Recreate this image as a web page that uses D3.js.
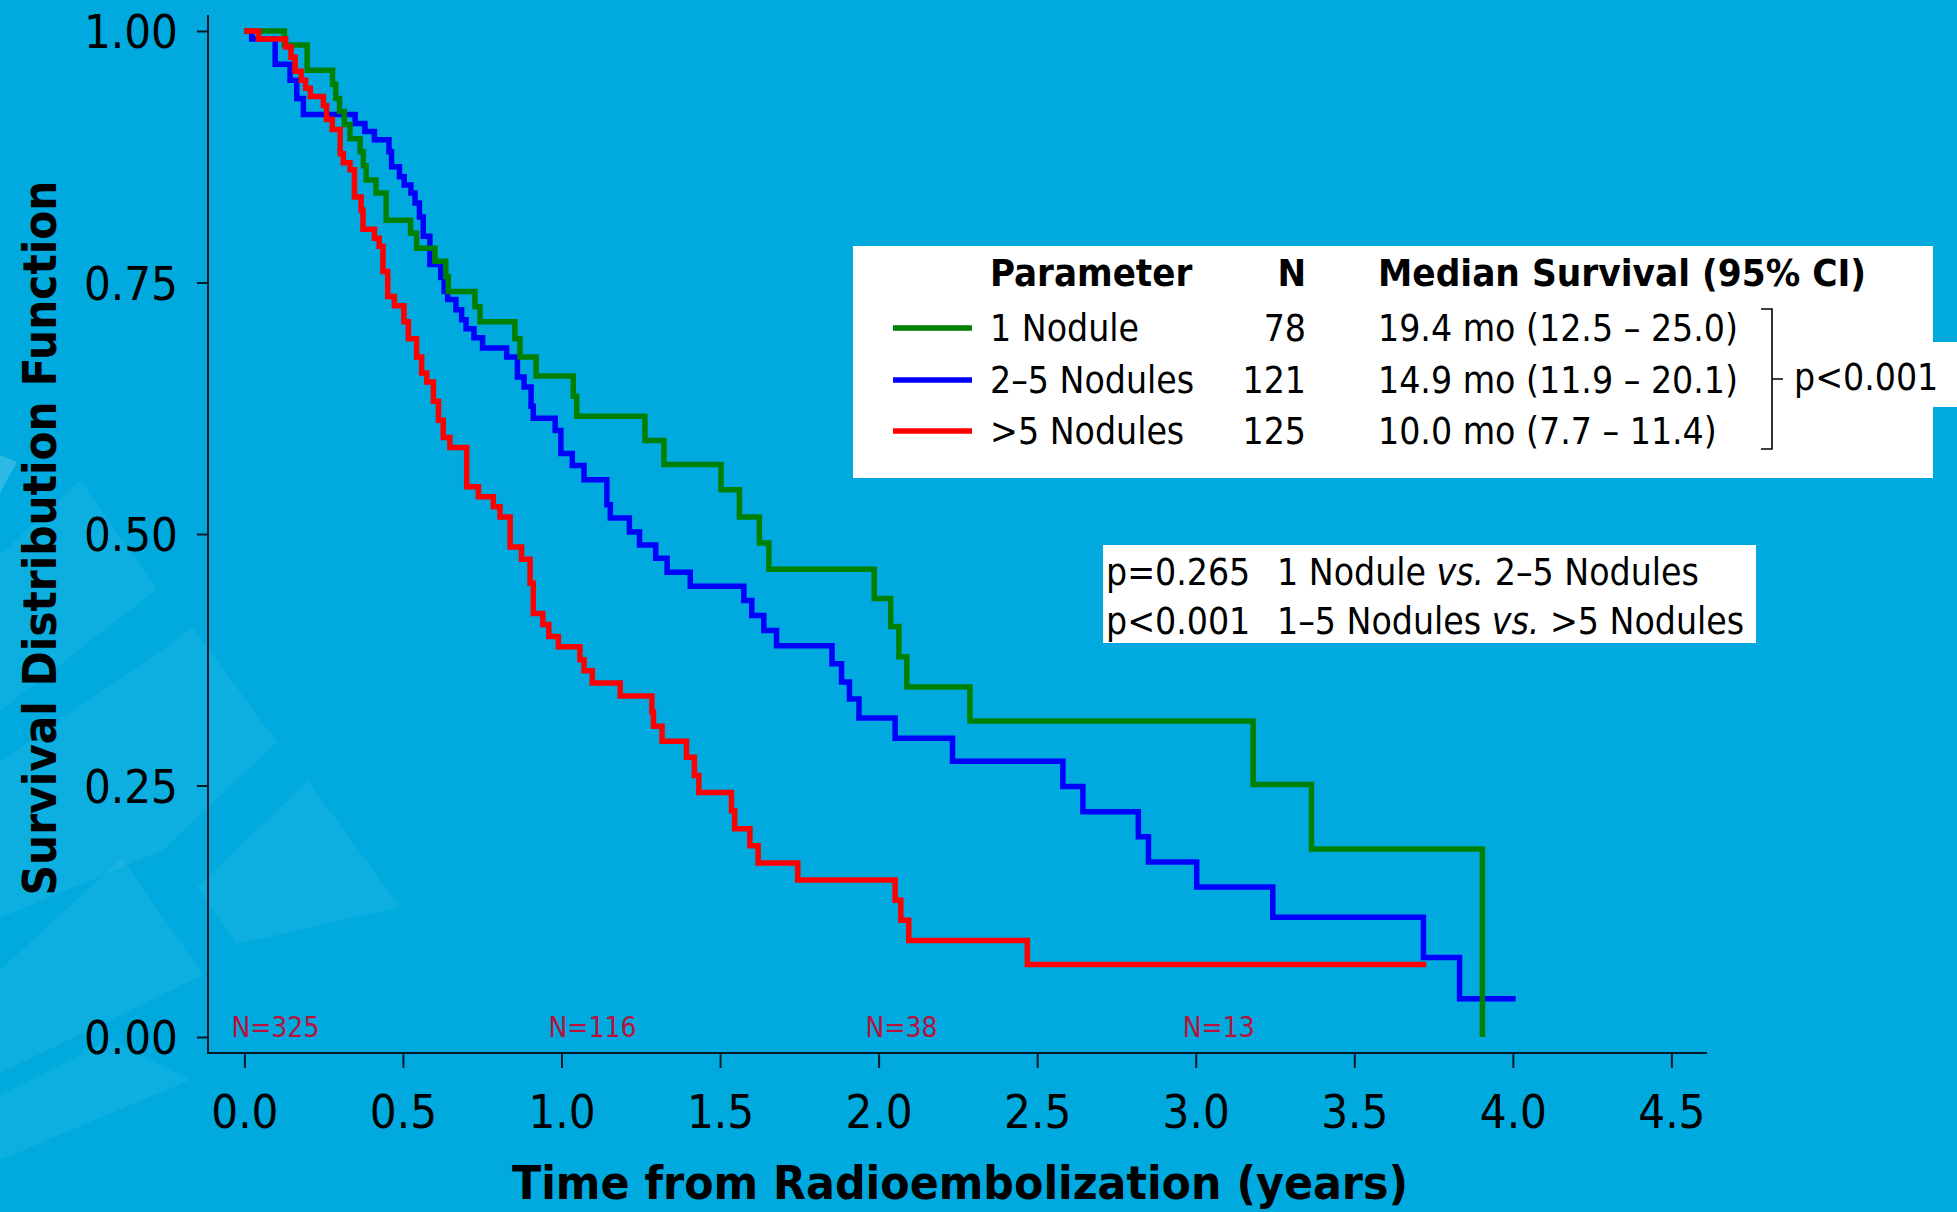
<!DOCTYPE html>
<html>
<head>
<meta charset="utf-8">
<script src="https://cdn.jsdelivr.net/npm/d3@7"></script>
<style>
  html, body { margin: 0; padding: 0; background: #00aadf; }
  svg { display: block; }
  .sans { font-family: "DejaVu Sans Condensed", "DejaVu Sans", sans-serif; font-stretch: condensed; }
</style>
</head>
<body>
<svg id="chart" width="1957" height="1212"></svg>
<script>
// ---- Kaplan–Meier step data (time in years, survival after each step) ----
const nodule1Times = [0, 0.126, 0.198, 0.278, 0.288, 0.300, 0.315, 0.333, 0.365, 0.375, 0.384, 0.415, 0.447,
  0.524, 0.543, 0.601, 0.635, 0.643, 0.727, 0.743, 0.853, 0.869, 0.920, 1.037, 1.048, 1.263, 1.323,
  1.503, 1.561, 1.624, 1.654, 1.986, 2.038, 2.064, 2.089, 2.288, 3.181, 3.365, 3.904];
const nodule1Surv = [1, 0.986, 0.961, 0.947, 0.933, 0.920, 0.907, 0.893, 0.880, 0.866, 0.852, 0.839, 0.812,
  0.799, 0.784, 0.771, 0.756, 0.741, 0.726, 0.711, 0.694, 0.676, 0.657, 0.637, 0.617, 0.593, 0.569,
  0.544, 0.517, 0.491, 0.465, 0.436, 0.408, 0.378, 0.348, 0.314, 0.251, 0.187, 0];

const nodules2to5Times = [0, 0.023, 0.097, 0.144, 0.165, 0.186, 0.349, 0.380, 0.410, 0.456, 0.464, 0.489, 0.504,
  0.525, 0.538, 0.552, 0.564, 0.585, 0.619, 0.630, 0.641, 0.667, 0.685, 0.699, 0.724, 0.751, 0.827, 0.861,
  0.882, 0.904, 0.911, 0.980, 0.998, 1.034, 1.071, 1.143, 1.154, 1.214, 1.246, 1.297, 1.333, 1.406,
  1.575, 1.600, 1.638, 1.678, 1.853, 1.883, 1.908, 1.938, 2.052, 2.233, 2.581, 2.644, 2.819, 2.851,
  3.003, 3.243, 3.718, 3.832, 4.009];
const nodules2to5Surv = [1, 0.992, 0.967, 0.951, 0.933, 0.917, 0.908, 0.900, 0.892, 0.880, 0.865, 0.855, 0.847,
  0.839, 0.829, 0.815, 0.796, 0.768, 0.755, 0.741, 0.733, 0.723, 0.713, 0.704, 0.695, 0.685, 0.676, 0.656,
  0.646, 0.627, 0.615, 0.603, 0.580, 0.568, 0.554, 0.529, 0.516, 0.502, 0.489, 0.476, 0.462, 0.448,
  0.434, 0.419, 0.404, 0.389, 0.371, 0.353, 0.336, 0.317, 0.297, 0.274, 0.249, 0.224, 0.199, 0.174,
  0.149, 0.119, 0.079, 0.038, 0.038];

const nodulesOver5Times = [0, 0.044, 0.130, 0.147, 0.160, 0.179, 0.193, 0.208, 0.249, 0.259, 0.277, 0.302, 0.312,
  0.333, 0.347, 0.368, 0.374, 0.410, 0.425, 0.437, 0.452, 0.473, 0.503, 0.517, 0.543, 0.559, 0.575,
  0.596, 0.612, 0.627, 0.648, 0.701, 0.738, 0.785, 0.806, 0.838, 0.874, 0.901, 0.911, 0.941, 0.960,
  0.990, 1.058, 1.071, 1.097, 1.185, 1.285, 1.290, 1.317, 1.394, 1.419, 1.433, 1.536, 1.546, 1.594,
  1.620, 1.745, 2.052, 2.070, 2.095, 2.469, 3.727];
const nodulesOver5Surv = [1, 0.992, 0.984, 0.974, 0.960, 0.951, 0.943, 0.935, 0.926, 0.912, 0.902, 0.878, 0.869,
  0.862, 0.835, 0.822, 0.803, 0.794, 0.786, 0.761, 0.736, 0.727, 0.711, 0.694, 0.676, 0.660, 0.651,
  0.632, 0.613, 0.596, 0.586, 0.547, 0.537, 0.527, 0.517, 0.487, 0.475, 0.451, 0.421, 0.410, 0.398,
  0.388, 0.375, 0.364, 0.352, 0.339, 0.323, 0.309, 0.294, 0.278, 0.260, 0.243, 0.225, 0.207, 0.190,
  0.173, 0.156, 0.136, 0.116, 0.096, 0.072, 0.072];

// ---- Legend and annotation content ----
const groupNames = ["1 Nodule", "2\u20135 Nodules", ">5 Nodules"];
const groupN = [78, 121, 125];
const groupMedian = ["19.4 mo (12.5 \u2013 25.0)", "14.9 mo (11.9 \u2013 20.1)", "10.0 mo (7.7 \u2013 11.4)"];
const groupColors = ["#008000", "#0000ff", "#ff0000"];
const overallP = "p<0.001";
const pairP = ["p=0.265", "p<0.001"];
const pairLeft = ["1 Nodule", "1\u20135 Nodules"];
const pairRight = ["2\u20135 Nodules", ">5 Nodules"];

// ---- Numbers at risk ----
const atRiskTimes = [0, 1, 2, 3];
const atRiskN = [325, 116, 38, 13];

// ---- Axis ticks ----
const xTicks = [0, 0.5, 1, 1.5, 2, 2.5, 3, 3.5, 4, 4.5];
const yTicks = [0, 0.25, 0.5, 0.75, 1];

const svg = d3.select("#chart");
const x = d3.scaleLinear().domain([0, 4.5]).range([244.4, 1671.4]);
const y = d3.scaleLinear().domain([0, 1]).range([1037, 31]);

// background
svg.append("rect").attr("width", 1957).attr("height", 1212).attr("fill", "#00aadf");

// faint decorative facets on the lower left
const facets = [
  [[0, 555], [80, 480], [157, 589], [0, 711]],
  [[193, 628], [277, 742], [163, 850], [0, 918], [0, 762]],
  [[308, 781], [400, 907], [237, 944], [197, 887]],
  [[122, 858], [203, 975], [0, 1073], [0, 970]],
  [[0, 1095], [110, 1040], [190, 1080], [0, 1160]]
];
svg.append("g").selectAll("polygon").data(facets).join("polygon")
  .attr("points", d => d.map(p => p.join(",")).join(" "))
  .attr("fill", "#ffffff").attr("fill-opacity", 0.05);
svg.append("polygon").attr("points", "0,455 17,462 0,493")
  .attr("fill", "#ffffff").attr("fill-opacity", 0.18);

// axes
const axisColor = "#0b1a28";
const yAxis = svg.append("g").attr("transform", "translate(208,0)")
  .call(d3.axisLeft(y).tickValues(yTicks).tickSize(11).tickPadding(19).tickFormat(d3.format(".2f")));
const xAxis = svg.append("g").attr("transform", "translate(0,1053)")
  .call(d3.axisBottom(x).tickValues(xTicks).tickSize(15).tickFormat(d3.format(".1f")));
[yAxis, xAxis].forEach(g => {
  g.select(".domain").remove();
  g.selectAll("line").attr("stroke", axisColor).attr("stroke-width", 2);
  g.selectAll("text").attr("class", "sans").attr("font-size", 47).attr("fill", "#000");
});
yAxis.selectAll("text").attr("dy", "0.36em");
xAxis.selectAll("text").attr("y", 75).attr("dy", 0);
svg.append("path").attr("d", "M208,15V1053H1707")
  .attr("fill", "none").attr("stroke", axisColor).attr("stroke-width", 2);

// axis titles
svg.append("text").attr("class", "sans").attr("font-weight", "bold").attr("font-size", 46)
  .attr("transform", "translate(56,538) rotate(-90)").attr("text-anchor", "middle")
  .attr("textLength", 715).attr("lengthAdjust", "spacingAndGlyphs")
  .text("Survival Distribution Function");
svg.append("text").attr("class", "sans").attr("font-weight", "bold").attr("font-size", 46)
  .attr("x", 960).attr("y", 1199).attr("text-anchor", "middle")
  .attr("textLength", 896).attr("lengthAdjust", "spacingAndGlyphs")
  .text("Time from Radioembolization (years)");

// survival curves
const series = [
  { times: nodules2to5Times, surv: nodules2to5Surv, color: groupColors[1] },
  { times: nodule1Times, surv: nodule1Surv, color: groupColors[0] },
  { times: nodulesOver5Times, surv: nodulesOver5Surv, color: groupColors[2] }
];
const line = d3.line().x(d => x(d[0])).y(d => y(d[1])).curve(d3.curveStepAfter);
svg.append("g").selectAll("path").data(series).join("path")
  .attr("d", d => line(d3.zip(d.times, d.surv)))
  .attr("fill", "none").attr("stroke", d => d.color)
  .attr("stroke-width", 5.5).attr("stroke-linejoin", "miter");

// numbers at risk
svg.append("g").selectAll("text").data(d3.zip(atRiskTimes, atRiskN)).join("text")
  .attr("class", "sans").attr("font-size", 28).attr("fill", "#b5123d")
  .attr("x", d => x(d[0]) - 13).attr("y", 1037)
  .text(d => "N=" + d[1]);

// legend box
const leg = svg.append("g");
leg.append("rect").attr("x", 853).attr("y", 246).attr("width", 1080).attr("height", 232).attr("fill", "#fff");
leg.append("rect").attr("x", 1930).attr("y", 342).attr("width", 27).attr("height", 65).attr("fill", "#fff");
const head = leg.append("g").attr("class", "sans").attr("font-weight", "bold").attr("font-size", 38);
head.append("text").attr("x", 990).attr("y", 286).text("Parameter");
head.append("text").attr("x", 1306).attr("y", 286).attr("text-anchor", "end").text("N");
head.append("text").attr("x", 1378).attr("y", 286)
  .attr("textLength", 488).attr("lengthAdjust", "spacingAndGlyphs").text("Median Survival (95% CI)");
const rowBase = [341, 393, 444];
const rows = leg.selectAll("g.row").data(d3.range(groupNames.length)).join("g").attr("class", "row sans")
  .attr("font-size", 37);
rows.append("line").attr("x1", 893).attr("x2", 972)
  .attr("y1", i => rowBase[i] - 13).attr("y2", i => rowBase[i] - 13)
  .attr("stroke", i => groupColors[i]).attr("stroke-width", 5.5);
rows.append("text").attr("x", 990).attr("y", i => rowBase[i]).text(i => groupNames[i]);
rows.append("text").attr("x", 1306).attr("y", i => rowBase[i]).attr("text-anchor", "end").text(i => groupN[i]);
rows.append("text").attr("x", 1378).attr("y", i => rowBase[i]).text(i => groupMedian[i]);
// bracket joining the three groups
leg.append("path").attr("d", "M1761,309H1772V449H1761M1772,379H1783")
  .attr("fill", "none").attr("stroke", "#000").attr("stroke-width", 1.6);
leg.append("text").attr("class", "sans").attr("font-size", 37).attr("x", 1794).attr("y", 390).text(overallP);

// pairwise comparison box
const pb = svg.append("g");
pb.append("rect").attr("x", 1103).attr("y", 545).attr("width", 653).attr("height", 98).attr("fill", "#fff");
const pBase = [585, 634];
pairP.forEach((p, i) => {
  pb.append("text").attr("class", "sans").attr("font-size", 37).attr("x", 1106).attr("y", pBase[i]).text(p);
  const t = pb.append("text").attr("class", "sans").attr("font-size", 37).attr("x", 1277).attr("y", pBase[i]);
  t.append("tspan").text(pairLeft[i] + " ");
  t.append("tspan").attr("font-style", "italic").text("vs.");
  t.append("tspan").text(" " + pairRight[i]);
});
</script>
</body>
</html>
